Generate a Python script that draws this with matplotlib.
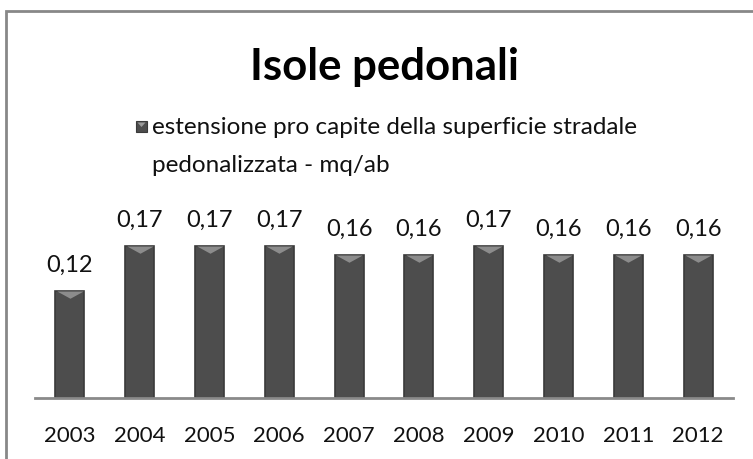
import matplotlib
matplotlib.use("Agg")
import matplotlib.pyplot as plt
from matplotlib.patches import Rectangle, Polygon
from matplotlib.path import Path
from matplotlib.markers import MarkerStyle
import numpy as np

years = ["2003", "2004", "2005", "2006", "2007", "2008", "2009", "2010", "2011", "2012"]
values = [0.12, 0.17, 0.17, 0.17, 0.16, 0.16, 0.17, 0.16, 0.16, 0.16]
series_line1 = "estensione pro capite della superficie stradale"
series_line2 = "pedonalizzata - mq/ab"
title = "Isole pedonali"

plt.rcParams['font.family'] = ['Lato', 'DejaVu Sans']

W, H = 753, 459
fig = plt.figure(figsize=(W / 100, H / 100), dpi=100)
ax = fig.add_axes([35 / W, 1 - 398 / H, 698 / W, 178.6 / H])

x = np.arange(len(years))
bars = ax.bar(x, values, width=0.415, color="#4d4d4d", edgecolor="#3a3a3a",
              linewidth=1.2, zorder=2)

# light bevel wedge at the top of each bar
tri = Path([(-1, 0), (1, 0), (0, -0.55), (-1, 0)],
           [Path.MOVETO, Path.LINETO, Path.LINETO, Path.CLOSEPOLY])
ax.plot(x, values, linestyle="none", marker=MarkerStyle(tri), markersize=19,
        markerfacecolor="#8c8c8c", markeredgecolor="none", zorder=3)

ax.bar_label(bars, labels=[f"{v:.2f}".replace(".", ",") for v in values],
             padding=11, fontsize=17, color="#111111")

ax.set_xlim(-0.5, len(years) - 0.5)
ax.set_ylim(0, 0.2)
ax.set_xticks(x)
ax.set_xticklabels(years, fontsize=16, color="#111111")
ax.tick_params(axis="x", length=0, pad=20)
ax.set_yticks([])
for s in ["top", "right", "left"]:
    ax.spines[s].set_visible(False)
ax.spines["bottom"].set_color("#8a8a8a")
ax.spines["bottom"].set_linewidth(2)

fig.text(385 / W, 1 - 67 / H, title, ha="center", va="center",
         fontsize=31.5, fontweight="bold", color="#000000")

# legend (manual layout)
fig.text(152 / W, 1 - 127 / H, series_line1, ha="left", va="center",
         fontsize=17.5, color="#111111")
fig.text(152 / W, 1 - 166 / H, series_line2, ha="left", va="center",
         fontsize=17.5, color="#111111")
fig.patches.append(Rectangle((136 / W, 1 - 132 / H), 11 / W, 11 / H,
                             transform=fig.transFigure, facecolor="#4d4d4d",
                             edgecolor="#3a3a3a", linewidth=0.8))
fig.patches.append(Polygon([(137.5 / W, 1 - 122.5 / H), (145.5 / W, 1 - 122.5 / H),
                            (141.5 / W, 1 - 127 / H)],
                           transform=fig.transFigure, facecolor="#9a9a9a",
                           edgecolor="none"))

fig.patches.append(Rectangle((5.5 / W, -0.1), 1.0, 1.1 - 11.5 / H,
                             transform=fig.transFigure, fill=False,
                             edgecolor="#888888", linewidth=2))

fig.savefig("out.png", dpi=100)
